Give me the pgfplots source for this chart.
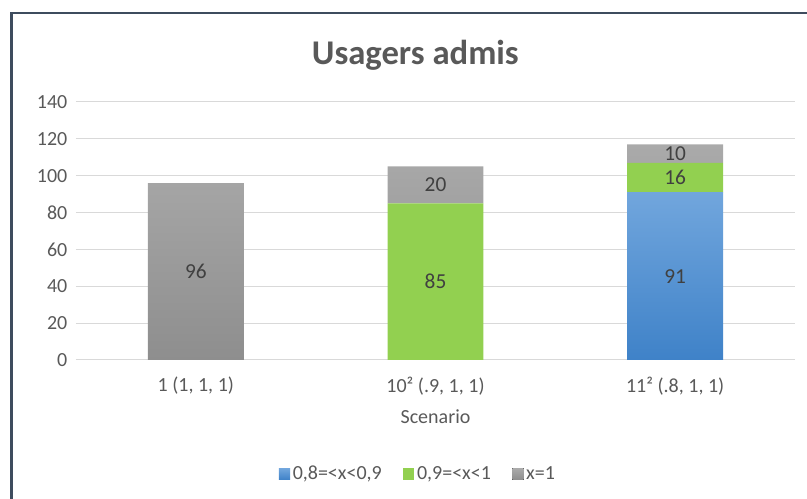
\documentclass[border=0pt]{standalone}
\usepackage{fontspec}
\setmainfont{Carlito}
\usepackage{pgfplots}
\pgfplotsset{compat=1.18}

\definecolor{txt}{HTML}{595959}
\definecolor{lbl}{HTML}{404040}
\definecolor{gridc}{HTML}{D9D9D9}
\definecolor{framec}{HTML}{3E4C5E}
\definecolor{blueT}{HTML}{71A6DD}
\definecolor{blueB}{HTML}{3F82C8}
\definecolor{greenc}{HTML}{92D050}
\definecolor{grayT}{HTML}{AAAAAA}
\definecolor{grayB}{HTML}{8E8E8E}

\begin{document}
\begin{tikzpicture}
\path[use as bounding box] (0,0) rectangle (605.25pt,374.25pt);
\draw[framec, line width=1.8pt] (8.6pt,0) -- (8.6pt,364.5pt) -- (605.25pt,364.5pt);
\node[font=\fontsize{26}{30}\selectfont\bfseries, text=txt] at (311.5pt,333pt) {Usagers admis};
\begin{axis}[
  at={(57pt,104.25pt)}, anchor=south west,
  scale only axis, width=539.25pt, height=193.5pt,
  ybar stacked, bar width=0.4,
  xmin=-0.5, xmax=2.5, ymin=0, ymax=140,
  xtick={0,1,2},
  xticklabels={{1 (1, 1, 1)}, {10² (.9, 1, 1)}, {11² (.8, 1, 1)}},
  ytick={0,20,40,60,80,100,120,140},
  ymajorgrids, grid style={gridc, line width=0.75pt},
  axis line style={draw=none}, major tick length=0pt,
  tick label style={font=\fontsize{15}{17}\selectfont, text=txt},
  /pgf/number format/assume math mode=true,
  xticklabel style={anchor=center, yshift=-19.5pt},
  yticklabel style={anchor=east, xshift=-3pt},
  xlabel={Scenario},
  xlabel style={font=\fontsize{15}{17}\selectfont, text=txt, at={(axis description cs:0.5,-0.221)}, anchor=center},
  legend columns=3,
  legend style={at={(0.476,-0.442)}, anchor=center, draw=none, fill=none,
    font=\fontsize{15}{17}\selectfont, text=txt,
    /tikz/every odd column/.append style={column sep=0pt},
    /tikz/every even column/.append style={column sep=14pt}},
  legend image code/.code={\fill[#1] (0pt,-4.2pt) rectangle (8.4pt,4.2pt);},
  point meta=rawy,
  nodes near coords={\pgfmathfloatifflags{\pgfplotspointmeta}{0}{}{\pgfmathprintnumber{\pgfplotspointmeta}}},
  every node near coord/.append style={font=\fontsize{16}{18}\selectfont, text=lbl, anchor=center},
]
\addplot[draw=none, top color=blueT, bottom color=blueB] coordinates {(0,0) (1,0) (2,91)};
\addlegendentry{0,8=<x<0,9}
\addplot[draw=none, fill=greenc] coordinates {(0,0) (1,85) (2,16)};
\addlegendentry{0,9=<x<1}
\addplot[draw=none, top color=grayT, bottom color=grayB] coordinates {(0,96) (1,20) (2,10)};
\addlegendentry{x=1}
\end{axis}
\end{tikzpicture}
\end{document}
